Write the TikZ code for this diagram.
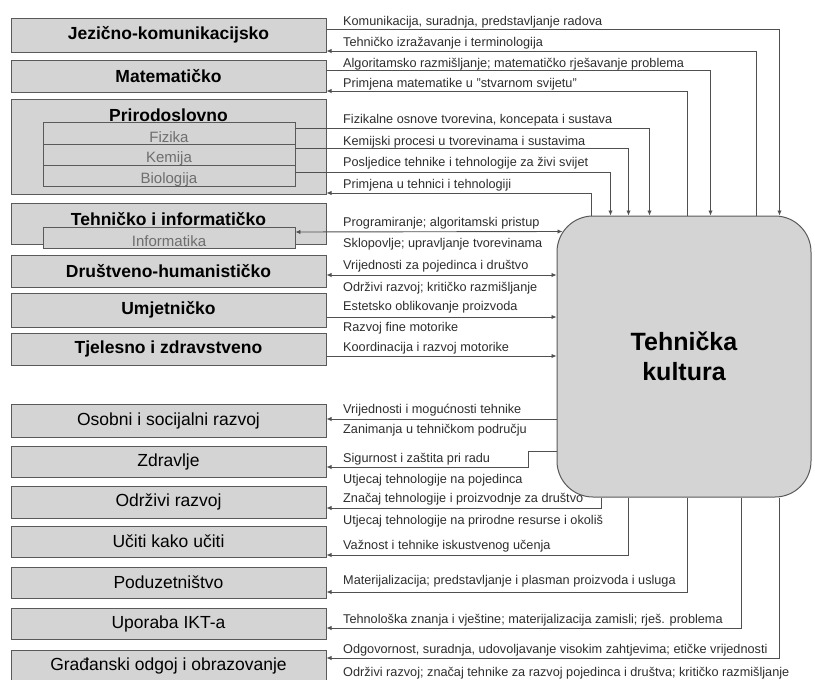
\documentclass[tikz,border=0pt]{standalone}
\usepackage{fontspec}
\setmainfont{Liberation Sans}
\usetikzlibrary{arrows.meta,calc}
\definecolor{boxfill}{RGB}{212,212,212}
\definecolor{boxdraw}{RGB}{90,90,90}
\definecolor{linecol}{RGB}{80,80,80}
\definecolor{lbltext}{RGB}{45,45,45}
\definecolor{subtext}{RGB}{110,110,110}
\begin{document}
\begin{tikzpicture}[x=1pt,y=-1pt,
  area/.style={draw=boxdraw, fill=boxfill, line width=1pt, minimum width=315pt, inner sep=0pt, font=\fontsize{17.5}{20}\selectfont\bfseries},
  topic/.style={draw=boxdraw, fill=boxfill, line width=1pt, minimum width=315pt, inner sep=0pt, font=\fontsize{17.5}{20}\selectfont},
  areatxt/.style={inner sep=0pt, font=\fontsize{17.5}{20}\selectfont\bfseries},
  subbox/.style={draw=boxdraw, fill=boxfill, line width=0.9pt, minimum width=252pt, inner sep=0pt},
  subtxt/.style={anchor=base, inner sep=0pt, text=subtext, font=\fontsize{15}{17}\selectfont},
  lbl/.style={anchor=base west, inner sep=0pt, text=lbltext, font=\fontsize{12.7}{14}\selectfont},
  conn/.style={draw=linecol, line width=0.9pt},
  tip/.style={-{Latex[length=5pt,width=4.5pt]}},
  both/.style={{Latex[length=5pt,width=4.5pt]}-{Latex[length=5pt,width=4.5pt]}},
  bigbox/.style={draw=boxdraw, fill=boxfill, line width=1pt, rounded corners=36pt, minimum width=254pt, minimum height=281pt, inner sep=0pt, align=center, font=\fontsize{25}{30}\selectfont\bfseries}
]
\useasboundingbox (0,0) rectangle (815,680);

% subject areas
\node[area, minimum height=34pt] (jez) at (168.5,35) {Jezično-komunikacijsko};
\node[area, minimum height=32pt] (mat) at (168.5,76) {Matematičko};
\node[area, minimum height=95pt] (prir) at (168.5,146.5) {};
\node[areatxt] (prirt) at (168.5,115) {Prirodoslovno};
\node[subbox, minimum height=22pt] (fiz) at (169,133) {};
\node[subbox, minimum height=21pt] (kem) at (169,154.5) {};
\node[subbox, minimum height=21pt] (bio) at (169,175.5) {};
\node[subtxt] (fizt) at (169,142.5) {Fizika};
\node[subtxt] (kemt) at (169,162.8) {Kemija};
\node[subtxt] (biot) at (169,183.6) {Biologija};
\node[area, minimum height=41pt] (teh) at (168.5,223.5) {};
\node[areatxt] (teht) at (168.5,219) {Tehničko i informatičko};
\node[subbox, minimum height=21pt] (inf) at (169,237.5) {};
\node[subtxt] (inft) at (169,246.2) {Informatika};
\node[area, minimum height=32pt] (dru) at (168.5,271) {Društveno-humanističko};
\node[area, minimum height=34pt] (umj) at (168.5,310) {Umjetničko};
\node[area, minimum height=32pt] (tje) at (168.5,349) {Tjelesno i zdravstveno};

% cross-curricular topics
\node[topic, minimum height=33pt] (oso) at (168.5,420.5) {Osobni i socijalni razvoj};
\node[topic, minimum height=31pt] (zdr) at (168.5,461.5) {Zdravlje};
\node[topic, minimum height=32pt] (odr) at (168.5,502) {Održivi razvoj};
\node[topic, minimum height=31pt] (uci) at (168.5,541.5) {Učiti kako učiti};
\node[topic, minimum height=31pt] (pod) at (168.5,582.5) {Poduzetništvo};
\node[topic, minimum height=31pt] (upo) at (168.5,623.5) {Uporaba IKT-a};
\node[topic, minimum height=32pt] (gra) at (168.5,666) {Građanski odgoj i obrazovanje};

% central box
\node[bigbox] (tk) at (684,356.5) {Tehnička\\kultura};

% connectors, top
\draw[conn,tip] (jez.east |- 0,29) -| ($(tk.north west)+(223,0)$);
\draw[conn,tip] ($(tk.north west)+(200,0)$) |- (jez.east |- 0,51);
\draw[conn,tip] (mat.east |- 0,70) -| ($(tk.north west)+(154,0)$);
\draw[conn,tip] ($(tk.north west)+(131,0)$) |- (mat.east |- 0,91);
\draw[conn,tip] (fiz.east |- 0,128) -| ($(tk.north west)+(93,0)$);
\draw[conn,tip] (kem.east |- 0,148) -| ($(tk.north west)+(72,0)$);
\draw[conn,tip] (bio.east |- 0,172) -| ($(tk.north west)+(54,0)$);
\draw[conn,tip] ($(tk.north west)+(35,0)$) |- (prir.east |- 0,193);

% connectors, left side
\draw[conn,both] (inf.east |- 0,232) -- ($(tk.north west)+(6,16)$);
\draw[conn,both] (dru.east |- 0,275) -- (tk.west |- 0,275);
\draw[conn,tip] (umj.east |- 0,317) -- (tk.west |- 0,317);
\draw[conn,tip] (tje.east |- 0,356) -- (tk.west |- 0,356);
\draw[conn,tip] (tk.west |- 0,419) -- (oso.east |- 0,419);
\draw[conn,tip] (tk.west |- 0,451) -- (528,451) -- (528,467) -- (zdr.east |- 0,467);

% connectors, bottom
\draw[conn,tip] ($(tk.south west)+(45,0)$) |- (odr.east |- 0,508);
\draw[conn,tip] ($(tk.south west)+(72,0)$) |- (uci.east |- 0,555);
\draw[conn,tip] ($(tk.south west)+(131,0)$) |- (pod.east |- 0,592);
\draw[conn,tip] ($(tk.south west)+(185,0)$) |- (upo.east |- 0,628);
\draw[conn,tip] ($(tk.south west)+(223,0)$) |- (gra.east |- 0,658);

% labels
\node[lbl] (l1) at (343,25) {Komunikacija, suradnja, predstavljanje radova};
\node[lbl] (l2) at (343,46) {Tehničko izražavanje i terminologija};
\node[lbl] (l3) at (343,67) {Algoritamsko razmišljanje; matematičko rješavanje problema};
\node[lbl] (l4) at (343,87) {Primjena matematike u "stvarnom svijetu"};
\node[lbl] (l5) at (343,123) {Fizikalne osnove tvorevina, koncepata i sustava};
\node[lbl] (l6) at (343,145) {Kemijski procesi u tvorevinama i sustavima};
\node[lbl] (l7) at (343,166) {Posljedice tehnike i tehnologije za živi svijet};
\node[lbl] (l8) at (343,188) {Primjena u tehnici i tehnologiji};
\node[lbl] (l9) at (343,226) {Programiranje; algoritamski pristup};
\node[lbl] (l10) at (343,247) {Sklopovlje; upravljanje tvorevinama};
\node[lbl] (l11) at (343,269) {Vrijednosti za pojedinca i društvo};
\node[lbl] (l12) at (343,291) {Održivi razvoj; kritičko razmišljanje};
\node[lbl] (l13) at (343,310) {Estetsko oblikovanje proizvoda};
\node[lbl] (l14) at (343,331) {Razvoj fine motorike};
\node[lbl] (l15) at (343,351) {Koordinacija i razvoj motorike};
\node[lbl] (l16) at (343,413) {Vrijednosti i mogućnosti tehnike};
\node[lbl] (l17) at (343,433) {Zanimanja u tehničkom području};
\node[lbl] (l18) at (343,462) {Sigurnost i zaštita pri radu};
\node[lbl] (l19) at (343,483) {Utjecaj tehnologije na pojedinca};
\node[lbl] (l20) at (343,502) {Značaj tehnologije i proizvodnje za društvo};
\node[lbl] (l21) at (343,524) {Utjecaj tehnologije na prirodne resurse i okoliš};
\node[lbl] (l22) at (343,549) {Važnost i tehnike iskustvenog učenja};
\node[lbl] (l23) at (343,584) {Materijalizacija; predstavljanje i plasman proizvoda i usluga};
\node[lbl] (l24) at (343,623) {Tehnološka znanja i vještine; materijalizacija zamisli; rješ. problema};
\node[lbl] (l25) at (343,653) {Odgovornost, suradnja, udovoljavanje visokim zahtjevima; etičke vrijednosti};
\node[lbl] (l26) at (343,676) {Održivi razvoj; značaj tehnike za razvoj pojedinca i društva; kritičko razmišljanje};
\end{tikzpicture}
\end{document}
